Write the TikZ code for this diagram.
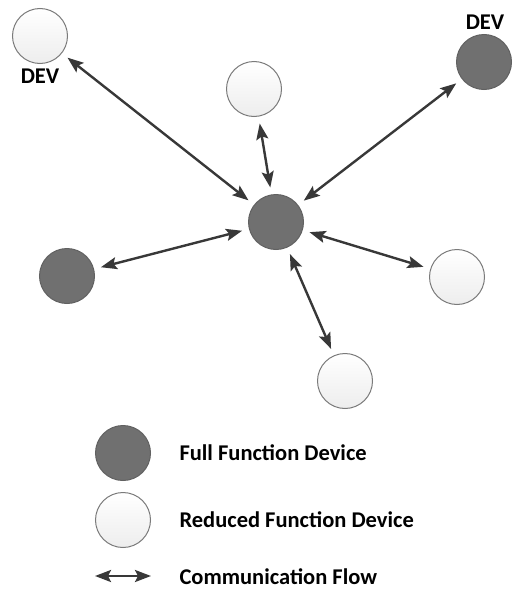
\documentclass[tikz,border=0pt]{standalone}
\usepackage{fontspec}
\setmainfont{Carlito}
\usetikzlibrary{arrows.meta}

\begin{document}
\begin{tikzpicture}[x=1pt,y=-1pt,font=\bfseries\fontsize{22.5}{26}\selectfont,
      >={Stealth[length=16pt,width=12pt,inset=3pt]},
      dev/.style={circle,minimum size=55pt,inner sep=0pt,line width=1pt},
      ffd/.style={dev,draw=black!62,fill=black!56},
      rfd/.style={dev,draw=black!52,top color=white,bottom color=black!7},
      flow/.style={<->,line width=2.4pt,draw=black!78,shorten <=7pt,shorten >=7pt}]
    \useasboundingbox (0,0) rectangle (520,589);
    % --- network ---
    \node[ffd] (hub) at (276,222) {};
    \node[rfd] (tl) at (40,36) {};
    \node at (40,76) {DEV};
    \node[rfd] (tm) at (254,89) {};
    \node[ffd] (tr) at (484,62) {};
    \node at (485,22) {DEV};
    \node[ffd] (lf) at (67,276) {};
    \node[rfd] (rt) at (457,277) {};
    \node[rfd] (bt) at (345,381) {};
    \draw[flow] (tl) -- (hub); \draw[flow] (tm) -- (hub);
    \draw[flow] (tr) -- (hub); \draw[flow] (lf) -- (hub);
    \draw[flow] (rt) -- (hub); \draw[flow] (bt) -- (hub);
    % --- legend ---
    \node[ffd] (lgf) at (123,453) {};
    \node[anchor=west] at (176,453) {Full Function Device};
    \node[rfd] (lgr) at (123,520) {};
    \node[anchor=west] at (176,520) {Reduced Function Device};
    \coordinate (la) at (95,576); \coordinate (lb) at (151,576);
    \draw[flow,shorten <=0pt,shorten >=0pt] (la) -- (lb);
    \node[anchor=west] at (176,577) {Communication Flow};
  \end{tikzpicture}
\end{document}
